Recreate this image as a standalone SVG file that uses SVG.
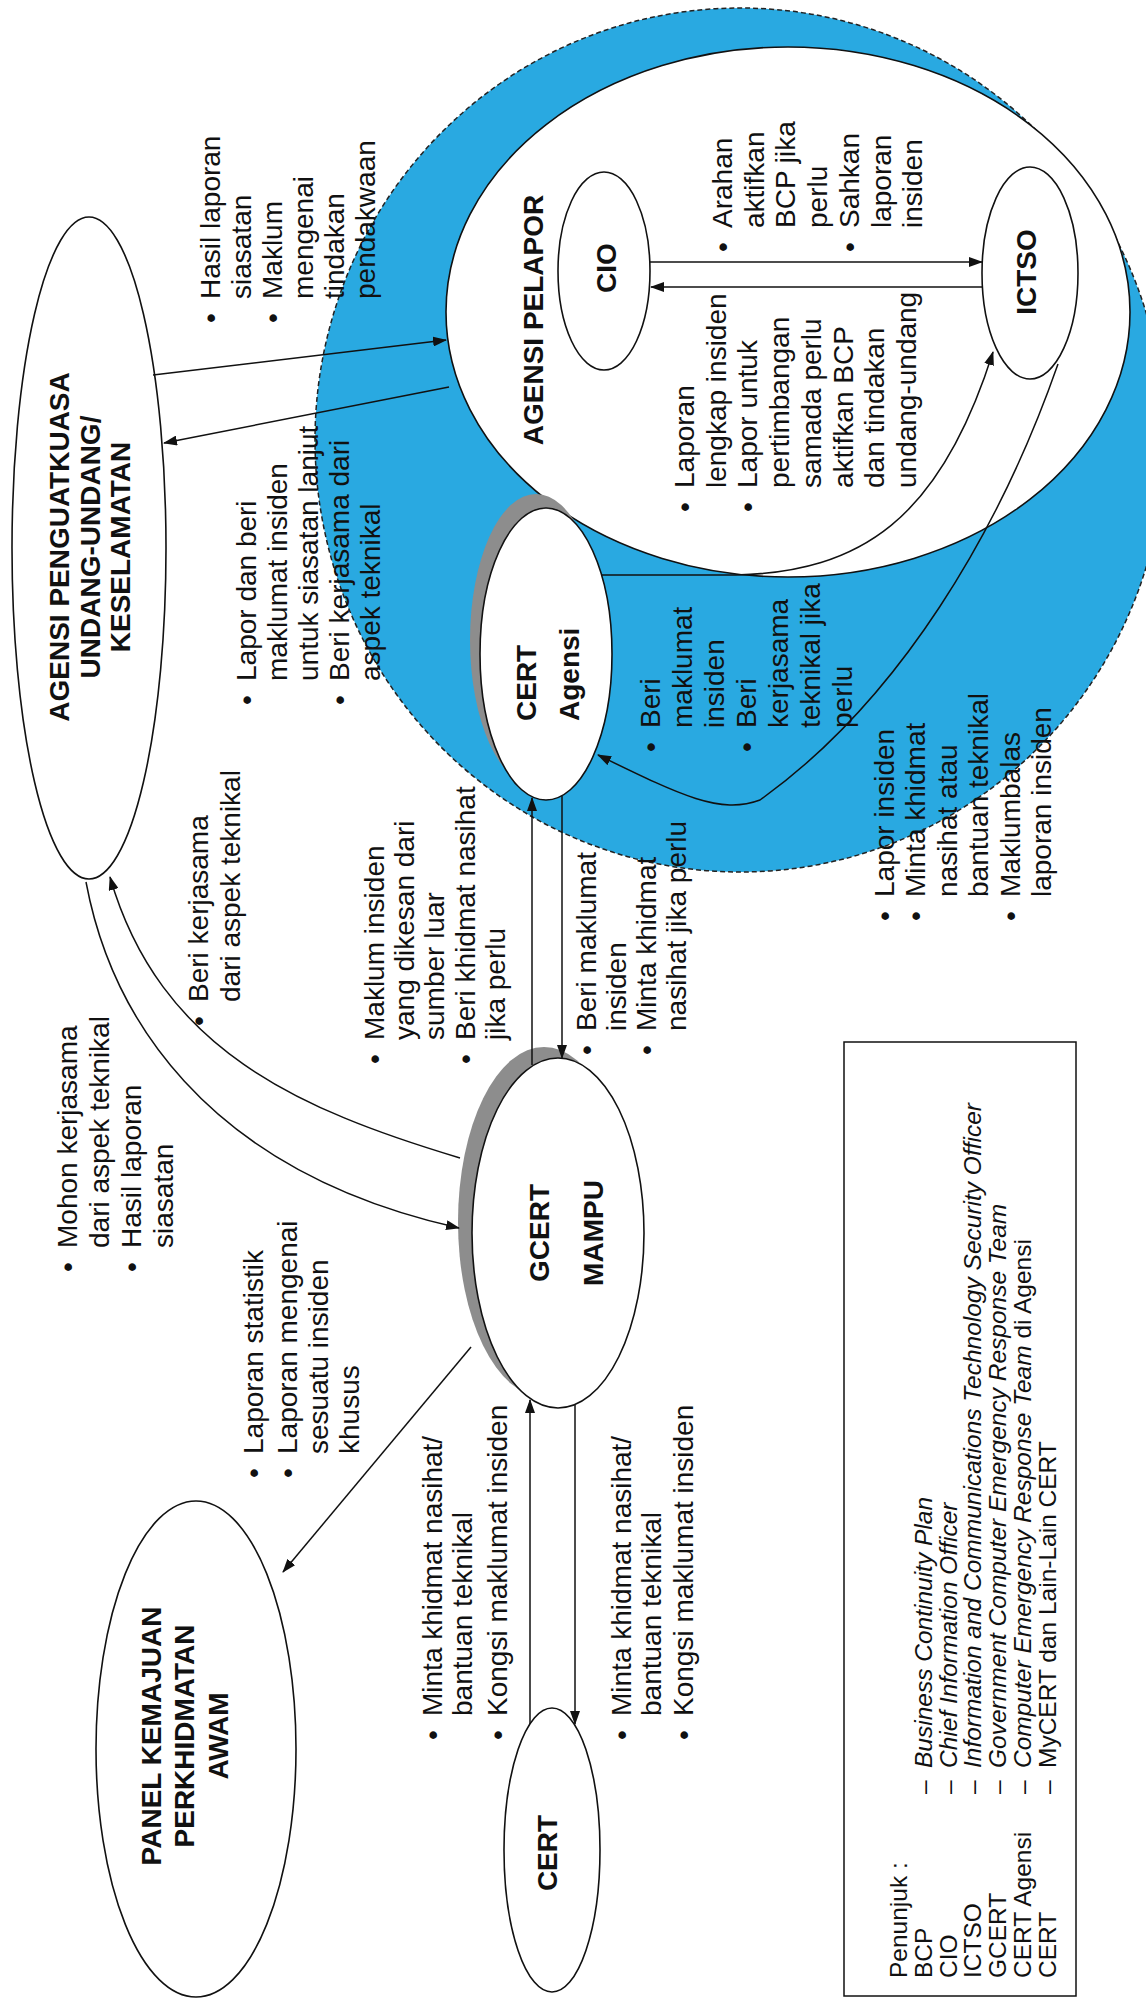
<svg xmlns="http://www.w3.org/2000/svg" width="1146" height="2002" viewBox="0 0 1146 2002">
<defs>
<style>
.t{font-family:"Liberation Sans",Arial,Helvetica,sans-serif;font-size:28px;fill:#111}
.b{font-weight:bold}
.m{text-anchor:middle}
.n{fill:#fff;stroke:#111;stroke-width:1.6}
.sh{fill:#8d8d8d}
.c{fill:none;stroke:#111;stroke-width:1.5}
.a{marker-end:url(#ah)}
.lg{font-size:24.5px}
.i{font-style:italic}
</style>
<marker id="ah" viewBox="0 0 14 10" refX="13" refY="5" markerWidth="14" markerHeight="10" markerUnits="userSpaceOnUse" orient="auto"><path d="M0,0 L14,5 L0,10 z" fill="#111"/></marker>
</defs>
<rect width="1146" height="2002" fill="#fff"/>

<g id="zone-agensi">
<ellipse cx="740" cy="440" rx="425" ry="432" fill="#29a9e1" stroke="#222" stroke-width="1.5" stroke-dasharray="5 3"/>
</g>

<g id="agensi-pelapor">
<ellipse class="n" cx="788" cy="312" rx="342" ry="265"/>
<text class="t b m" font-size="34" transform="translate(543,320) rotate(-90)">AGENSI PELAPOR</text>
</g>

<g id="cio">
<ellipse class="n" cx="604" cy="271" rx="46" ry="99"/>
<text class="t b m" font-size="38" transform="translate(616,268) rotate(-90)">CIO</text>
</g>

<g id="ictso">
<ellipse class="n" cx="1030" cy="273" rx="48" ry="106"/>
<text class="t b m" font-size="35" transform="translate(1036,272) rotate(-90)">ICTSO</text>
</g>

<g id="cert-agensi">
<ellipse class="sh" cx="536" cy="640" rx="66" ry="146"/>
<ellipse class="n" cx="546" cy="654" rx="66" ry="146"/>
<text class="t b" font-size="38" transform="translate(536,721) rotate(-90)"><tspan x="0" y="0">CERT</tspan><tspan x="0" y="43">Agensi</tspan></text>
</g>

<g id="penguatkuasa">
<ellipse class="n" cx="89" cy="548" rx="77" ry="331"/>
<text class="t b m" transform="translate(69,547) rotate(-90)"><tspan x="0" y="0">AGENSI PENGUATKUASA</tspan><tspan x="0" y="30.5">UNDANG-UNDANG/</tspan><tspan x="0" y="61">KESELAMATAN</tspan></text>
</g>

<g id="gcert">
<ellipse class="sh" cx="544" cy="1222" rx="86" ry="175"/>
<ellipse class="n" cx="558" cy="1233" rx="86" ry="175"/>
<text class="t b m" font-size="50" transform="translate(549,1233) rotate(-90)"><tspan x="0" y="0">GCERT</tspan><tspan x="0" y="54">MAMPU</tspan></text>
</g>

<g id="panel">
<ellipse class="n" cx="196" cy="1749" rx="100" ry="248"/>
<text class="t b m" font-size="29" transform="translate(161,1736) rotate(-90)"><tspan x="0" y="0">PANEL KEMAJUAN</tspan><tspan x="0" y="33">PERKHIDMATAN</tspan><tspan x="0" y="67">AWAM</tspan></text>
</g>

<g id="cert">
<ellipse class="n" cx="552" cy="1850" rx="48" ry="142"/>
<text class="t b m" font-size="35" transform="translate(557,1853) rotate(-90)">CERT</text>
</g>

<g id="connectors">
<path class="c a" d="M153,375 L446,340"/>
<path class="c a" d="M449,387 L164,443"/>
<path class="c a" d="M86,882 C110,1010 200,1170 459,1228"/>
<path class="c a" d="M460,1158 C300,1110 160,1050 110,877"/>
<path class="c a" d="M471,1347 L283,1572"/>
<path class="c a" d="M562,796 L562,1058"/>
<path class="c a" d="M532,1065 L532,798"/>
<path class="c a" d="M530,1724 L530,1400"/>
<path class="c a" d="M575,1405 L575,1724"/>
<path class="c a" d="M650,262 L982,262"/>
<path class="c a" d="M982,287 L651,287"/>
<path class="c a" d="M602,575 L736,575 C860,572 940,520 993,352"/>
<path class="c a" d="M1058,364 C1000,530 900,700 760,800 C720,815 680,795 598,755"/>
</g>

<g id="labels">
<text class="t" transform="translate(220,323) rotate(-90)"><tspan x="0" y="0">•</tspan><tspan x="24" y="0">Hasil laporan</tspan><tspan x="24" y="31">siasatan</tspan><tspan x="0" y="62">•</tspan><tspan x="24" y="62">Maklum</tspan><tspan x="24" y="93">mengenai</tspan><tspan x="24" y="124">tindakan</tspan><tspan x="24" y="155">pendakwaan</tspan></text>

<text class="t" transform="translate(256,705) rotate(-90)"><tspan x="0" y="0">•</tspan><tspan x="24" y="0">Lapor dan beri</tspan><tspan x="24" y="31">maklumat insiden</tspan><tspan x="24" y="62">untuk siasatan lanjut</tspan><tspan x="0" y="93">•</tspan><tspan x="24" y="93">Beri kerjasama dari</tspan><tspan x="24" y="124">aspek teknikal</tspan></text>

<text class="t" transform="translate(208,1026) rotate(-90)"><tspan x="0" y="0">•</tspan><tspan x="24" y="0">Beri kerjasama</tspan><tspan x="24" y="32">dari aspek teknikal</tspan></text>

<text class="t" transform="translate(384,1064) rotate(-90)"><tspan x="0" y="0">•</tspan><tspan x="24" y="0">Maklum insiden</tspan><tspan x="24" y="30">yang dikesan dari</tspan><tspan x="24" y="60">sumber luar</tspan><tspan x="0" y="91">•</tspan><tspan x="24" y="91">Beri khidmat nasihat</tspan><tspan x="24" y="121">jika perlu</tspan></text>

<text class="t" transform="translate(596,1055) rotate(-90)"><tspan x="0" y="0">•</tspan><tspan x="24" y="0">Beri maklumat</tspan><tspan x="24" y="30">insiden</tspan><tspan x="0" y="60">•</tspan><tspan x="24" y="60">Minta khidmat</tspan><tspan x="24" y="90">nasihat jika perlu</tspan></text>

<text class="t" transform="translate(77,1272) rotate(-90)"><tspan x="0" y="0">•</tspan><tspan x="24" y="0">Mohon kerjasama</tspan><tspan x="24" y="32">dari aspek teknikal</tspan><tspan x="0" y="64">•</tspan><tspan x="24" y="64">Hasil laporan</tspan><tspan x="24" y="96">siasatan</tspan></text>

<text class="t" transform="translate(263,1478) rotate(-90)"><tspan x="0" y="0">•</tspan><tspan x="24" y="0">Laporan statistik</tspan><tspan x="0" y="34">•</tspan><tspan x="24" y="34">Laporan mengenai</tspan><tspan x="24" y="65">sesuatu insiden</tspan><tspan x="24" y="96">khusus</tspan></text>

<text class="t" transform="translate(442,1740) rotate(-90)"><tspan x="0" y="0">•</tspan><tspan x="24" y="0">Minta khidmat nasihat/</tspan><tspan x="24" y="30">bantuan teknikal</tspan><tspan x="0" y="65">•</tspan><tspan x="24" y="65">Kongsi maklumat insiden</tspan></text>

<text class="t" transform="translate(631,1740) rotate(-90)"><tspan x="0" y="0">•</tspan><tspan x="24" y="0">Minta khidmat nasihat/</tspan><tspan x="24" y="30">bantuan teknikal</tspan><tspan x="0" y="62">•</tspan><tspan x="24" y="62">Kongsi maklumat insiden</tspan></text>

<text class="t" transform="translate(894,921) rotate(-90)"><tspan x="0" y="0">•</tspan><tspan x="24" y="0">Lapor insiden</tspan><tspan x="0" y="31">•</tspan><tspan x="24" y="31">Minta khidmat</tspan><tspan x="24" y="63">nasihat atau</tspan><tspan x="24" y="94">bantuan teknikal</tspan><tspan x="0" y="126">•</tspan><tspan x="24" y="126">Maklumbalas</tspan><tspan x="24" y="157">laporan insiden</tspan></text>

<text class="t" transform="translate(660,752) rotate(-90)"><tspan x="0" y="0">•</tspan><tspan x="24" y="0">Beri</tspan><tspan x="24" y="32">maklumat</tspan><tspan x="24" y="64">insiden</tspan><tspan x="0" y="96">•</tspan><tspan x="24" y="96">Beri</tspan><tspan x="24" y="128">kerjasama</tspan><tspan x="24" y="160">teknikal jika</tspan><tspan x="24" y="192">perlu</tspan></text>

<text class="t" transform="translate(694,512) rotate(-90)"><tspan x="0" y="0">•</tspan><tspan x="24" y="0">Laporan</tspan><tspan x="24" y="31.7">lengkap insiden</tspan><tspan x="0" y="63.4">•</tspan><tspan x="24" y="63.4">Lapor untuk</tspan><tspan x="24" y="95.1">pertimbangan</tspan><tspan x="24" y="126.8">samada perlu</tspan><tspan x="24" y="158.5">aktifkan BCP</tspan><tspan x="24" y="190.2">dan tindakan</tspan><tspan x="24" y="221.9">undang-undang</tspan></text>

<text class="t" transform="translate(732,252) rotate(-90)"><tspan x="0" y="0">•</tspan><tspan x="24" y="0">Arahan</tspan><tspan x="24" y="31.7">aktifkan</tspan><tspan x="24" y="63.4">BCP jika</tspan><tspan x="24" y="95.1">perlu</tspan><tspan x="0" y="126.8">•</tspan><tspan x="24" y="126.8">Sahkan</tspan><tspan x="24" y="158.5">laporan</tspan><tspan x="24" y="190.2">insiden</tspan></text>
</g>

<g id="legend">
<rect x="844" y="1042" width="232" height="954" fill="none" stroke="#111" stroke-width="1.5"/>
<text class="t lg" transform="translate(907,1978) rotate(-90)">
<tspan x="0" y="0">Penunjuk :</tspan>
<tspan x="0" y="24.8">BCP</tspan><tspan x="184" y="24.8">–</tspan><tspan class="i" x="210" y="24.8">Business Continuity Plan</tspan>
<tspan x="0" y="49.6">CIO</tspan><tspan x="184" y="49.6">–</tspan><tspan class="i" x="210" y="49.6">Chief Information Officer</tspan>
<tspan x="0" y="74.4">ICTSO</tspan><tspan x="184" y="74.4">–</tspan><tspan class="i" x="210" y="74.4">Information and Communications Technology Security Officer</tspan>
<tspan x="0" y="99.2">GCERT</tspan><tspan x="184" y="99.2">–</tspan><tspan class="i" x="210" y="99.2">Government Computer Emergency Response Team</tspan>
<tspan x="0" y="124">CERT Agensi</tspan><tspan x="184" y="124">–</tspan><tspan class="i" x="210" y="124">Computer Emergency Response Team</tspan><tspan> di Agensi</tspan>
<tspan x="0" y="148.8">CERT</tspan><tspan x="184" y="148.8">–</tspan><tspan x="210" y="148.8">MyCERT dan Lain-Lain CERT</tspan>
</text>
</g>
</svg>
